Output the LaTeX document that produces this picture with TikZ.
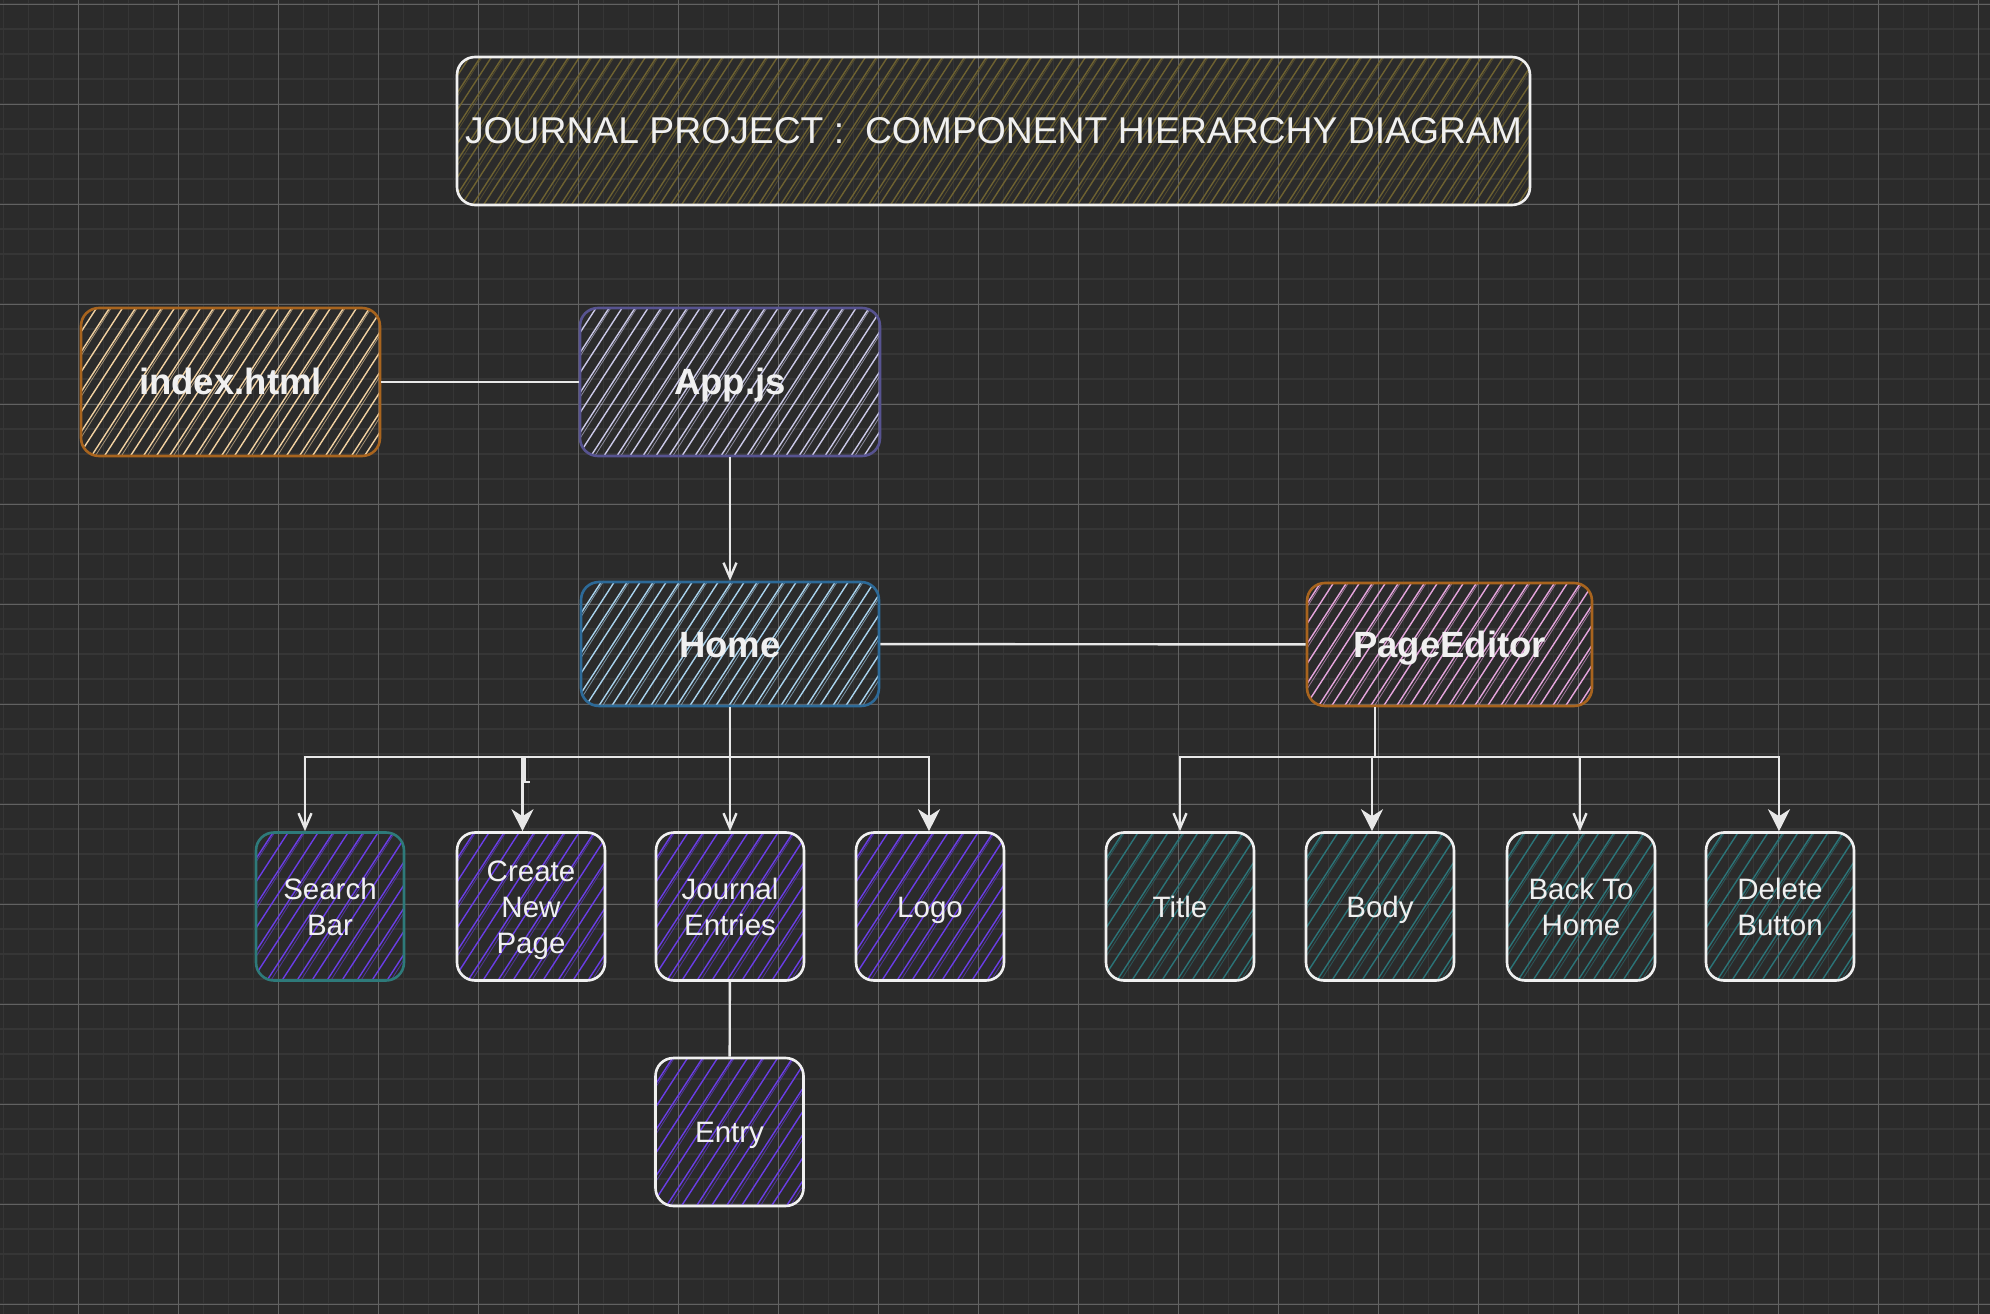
\documentclass[tikz,border=0pt]{standalone}
\usepackage{fontspec}
\setmainfont{Liberation Sans}
\usetikzlibrary{arrows.meta,calc}

\definecolor{bg}{HTML}{2B2B2B}
\definecolor{gridminor}{HTML}{363636}
\definecolor{gridmajor}{HTML}{626262}
\definecolor{ink}{HTML}{F0F0F0}
\definecolor{wirec}{HTML}{E8E8E8}
\definecolor{olive}{HTML}{6E6231}
\definecolor{amber}{HTML}{A8641E}
\definecolor{peach}{HTML}{F2D2A2}
\definecolor{dusk}{HTML}{575390}
\definecolor{lilac}{HTML}{CBC9E8}
\definecolor{steel}{HTML}{2D6A98}
\definecolor{sky}{HTML}{A9D3EE}
\definecolor{rose}{HTML}{E6A6DE}
\definecolor{violet}{HTML}{6A3DE6}
\definecolor{sea}{HTML}{2B7478}
\definecolor{seastroke}{HTML}{2E7A7A}

% line struts so text is centred on its line box, not on its glyphs
\newcommand\ls{\rule[-7.5bp]{0pt}{36bp}}
\newcommand\bs{\rule[-9bp]{0pt}{44bp}}

\tikzset{
  hatch/.style n args={3}{path picture={
    \foreach \k in {-#3,...,#3}{
      \draw[draw=#1, line width=1.4bp, line cap=round]
        ($(path picture bounding box.center)+(\k*#2 bp,0)+(237:170bp)$) -- ++(57:340bp);
      \ifodd\k
      \draw[draw=#1, line width=0.8bp, opacity=0.6, line cap=round]
        ($(path picture bounding box.center)+(\k*#2 bp+2.8bp,0)+(237.6:170bp)$) -- ++(57.6:340bp);
      \fi
    }}},
  box/.style={rectangle, rounded corners=18bp, line width=2.6bp, align=center,
    text=ink, inner sep=0pt},
  bigbox/.style={box, font=\fontsize{36.5bp}{44bp}\selectfont\bfseries,
    minimum width=#1},
  leafbox/.style={box, minimum width=148bp, minimum height=148bp,
    font=\fontsize{29.5bp}{36bp}\selectfont},
  wire/.style={draw=wirec, line width=2.4bp},
  arrowlight/.style={wire, -{Straight Barb[length=15bp,width=13bp]}},
  arrowheavy/.style={wire, -{Stealth[length=22bp,width=22bp,inset=7bp]}},
}

\begin{document}
\begin{tikzpicture}[x=1bp,y=-1bp]
  % canvas and grid paper
  \fill[bg] (0,0) rectangle (1990,1314);
  \useasboundingbox (0,0) rectangle (1990,1314);
  \foreach \gx in {3.5,28.5,...,1990} \draw[gridminor, line width=1.8bp] (\gx,0) -- (\gx,1314);
  \foreach \gy in {4.3,29.3,...,1314} \draw[gridminor, line width=1.8bp] (0,\gy) -- (1990,\gy);
  \foreach \gx in {78.5,178.5,...,1990} \draw[gridmajor, line width=1.1bp] (\gx,0) -- (\gx,1314);
  \foreach \gy in {4.3,104.3,...,1314} \draw[gridmajor, line width=1.1bp] (0,\gy) -- (1990,\gy);

  % heading
  \node[box, draw=ink, minimum width=1073bp, minimum height=148bp,
        font=\fontsize{37.3bp}{44bp}\selectfont, hatch={olive}{11}{60}]
        (title) at (993.5,131) {JOURNAL PROJECT :~ COMPONENT HIERARCHY DIAGRAM};

  % top level
  \node[bigbox=299bp, minimum height=148bp, draw=amber, hatch={peach}{13}{22}]
        (index) at (230.5,382) {\bs index.html\bs};
  \node[bigbox=300bp, minimum height=148bp, draw=dusk, hatch={lilac}{13}{22}]
        (app) at (730,382) {\bs App.js\bs};
  \node[bigbox=298bp, minimum height=124bp, draw=steel, hatch={sky}{13}{22}]
        (home) at (730,644) {\bs Home\bs};
  \node[bigbox=285bp, minimum height=123bp, draw=amber, hatch={rose}{13}{22}]
        (pe) at (1449.5,644.5) {\bs PageEditor\bs};

  % children of Home
  \node[leafbox, draw=seastroke, hatch={violet}{15}{13}] (search) at (330,906.5) {\ls Search\\Bar\ls};
  \node[leafbox, draw=ink, hatch={violet}{15}{13}] (create) at (531,906.5) {\ls Create\\New\\Page\ls};
  \node[leafbox, draw=ink, hatch={violet}{15}{13}] (journal) at (730,906.5) {\ls Journal\\Entries\ls};
  \node[leafbox, draw=ink, hatch={violet}{15}{13}] (logo) at (930,906.5) {\ls Logo\ls};
  \node[leafbox, draw=ink, hatch={violet}{15}{13}] (entry) at (729.5,1132) {\ls Entry\ls};

  % children of PageEditor
  \node[leafbox, draw=ink, hatch={sea}{15}{13}] (ttl) at (1180,906.5) {\ls Title\ls};
  \node[leafbox, draw=ink, hatch={sea}{15}{13}] (body) at (1380,906.5) {\ls Body\ls};
  \node[leafbox, draw=ink, hatch={sea}{15}{13}] (back) at (1581,906.5) {\ls Back To\\Home\ls};
  \node[leafbox, draw=ink, hatch={sea}{15}{13}] (del) at (1780,906.5) {\ls Delete\\Button\ls};

  % second, lighter pass of each outline for a hand-drawn look
  \foreach \n/\c in {title/ink,index/amber,app/dusk,home/steel,pe/amber,
                     search/seastroke,create/ink,journal/ink,logo/ink,entry/ink,
                     ttl/ink,body/ink,back/ink,del/ink}
    \draw[draw=\c, line width=1.2bp, rounded corners=18bp]
      ([shift={(1.5bp,-1.5bp)}]\n.north west) rectangle ([shift={(-1bp,1.5bp)}]\n.south east);

  % connectors
  \draw[wire] (index) -- (app);
  \draw[wire] (home) -- (pe);
  \draw[arrowlight] (app) -- (home);

  \coordinate (hj) at (730,757);
  \coordinate (pj) at (1375,757);
  \draw[wire] (home.south) -- (hj);
  \draw[wire] (pe.south -| pj) -- (pj);

  \draw[arrowlight] (hj) -| ([xshift=-25bp]search.north);
  \draw[arrowheavy] (hj) -| ([xshift=-8.5bp]create.north);
  \draw[arrowlight] (hj) -- (journal.north);
  \draw[arrowheavy] (hj) -| ([xshift=-1bp]logo.north);
  \draw[wire, line width=2bp] (525,757) -- (525,782) -- (530,782);

  \draw[arrowlight] (pj) -| (ttl.north);
  \draw[arrowheavy] (pj) -| ([xshift=-8bp]body.north);
  \draw[arrowlight] (pj) -| ([xshift=-1bp]back.north);
  \draw[arrowheavy] (pj) -| ([xshift=-1bp]del.north);

  \draw[wire] (journal) -- (entry);
\end{tikzpicture}
\end{document}
